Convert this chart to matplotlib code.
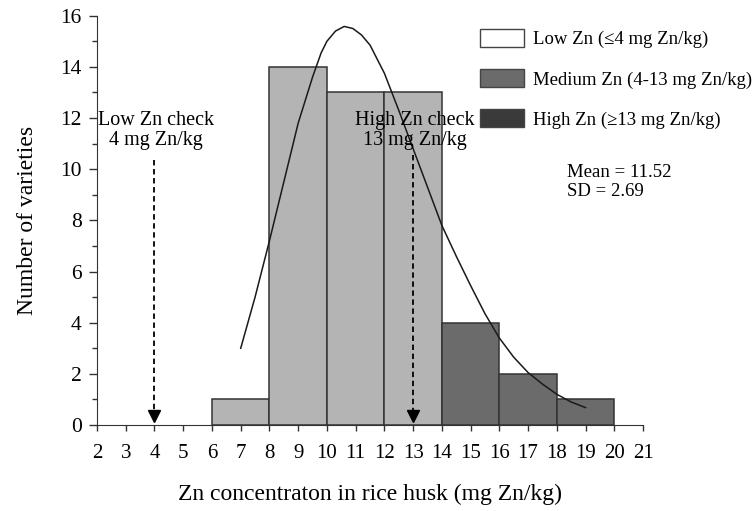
import matplotlib.pyplot as plt
from matplotlib.patches import Patch
from matplotlib.ticker import MultipleLocator

plt.rcParams['font.family'] = ['Liberation Serif', 'DejaVu Serif']

# histogram bins (left edges), width 2
bin_left = [6, 8, 10, 12, 14, 16, 18]
counts = [1, 14, 13, 13, 4, 2, 1]
bin_color = ['#b4b4b4', '#b4b4b4', '#b4b4b4', '#b4b4b4', '#6b6b6b', '#6b6b6b', '#6b6b6b']

# fitted curve
curve_x = [7.0, 7.5, 8.0, 8.5, 9.0, 9.5, 9.8, 10.0, 10.3, 10.6, 10.9, 11.2, 11.5, 12.0, 12.5,
           13.0, 13.5, 14.0, 14.5, 15.0, 15.5, 16.0, 16.5, 17.0, 17.5, 18.0, 18.5, 19.0]
curve_y = [3.0, 5.0, 7.2, 9.5, 11.8, 13.6, 14.55, 15.0, 15.4, 15.58, 15.5, 15.25, 14.85, 13.75, 12.3,
           10.8, 9.3, 7.8, 6.6, 5.45, 4.35, 3.4, 2.65, 2.05, 1.6, 1.2, 0.9, 0.68]

check_x = [4, 13]
check_top = [10.35, 10.55]
check_text = ['Low Zn check\n4 mg Zn/kg', 'High Zn check\n13 mg Zn/kg']

legend_labels = ['Low Zn (\u22644 mg Zn/kg)', 'Medium Zn (4-13 mg Zn/kg)', 'High Zn (\u226513 mg Zn/kg)']
legend_colors = ['white', '#6b6b6b', '#3a3a3a']

fig = plt.figure(figsize=(7.55, 5.11), dpi=100)
ax = fig.add_axes([0.1285, 0.1683, 0.7232, 0.801])

ax.bar(bin_left, counts, width=2, align='edge', color=bin_color,
       edgecolor='#333333', linewidth=1.1, zorder=2)
ax.plot(curve_x, curve_y, color='#1a1a1a', linewidth=1.1, zorder=3)

for cx, ct, txt in zip(check_x, check_top, check_text):
    ax.plot([cx, cx], [ct, 0.35], color='black', linestyle=(0, (3, 2)), linewidth=1.3, zorder=4)
    ax.plot([cx], [0.35], marker='v', color='black', markersize=8, zorder=4)
    ax.text(cx + 0.05, 11.5, txt, ha='center', va='center', fontsize=14.5, linespacing=1.08, zorder=5)

ax.text(18.35, 9.5, 'Mean = 11.52\nSD = 2.69', ha='left', va='center', fontsize=13.5, linespacing=1.1)

handles = [Patch(facecolor=c, edgecolor='#444444', linewidth=1) for c in legend_colors]
fig.legend(handles, legend_labels, loc='upper left', bbox_to_anchor=(0.624, 0.962),
           frameon=False, fontsize=13.5, handlelength=2.3, handleheight=1.12,
           labelspacing=1.1, handletextpad=0.5, borderpad=0)

ax.set_xlim(2, 21)
ax.set_ylim(0, 16)
ax.xaxis.set_major_locator(MultipleLocator(1))
ax.yaxis.set_major_locator(MultipleLocator(2))
ax.yaxis.set_minor_locator(MultipleLocator(1))
ax.tick_params(axis='x', direction='out', length=4, width=1, color='#333333', labelsize=15, pad=10)
ax.tick_params(axis='y', which='major', direction='out', length=6, width=1, color='#333333', labelsize=15.5, pad=5)
ax.tick_params(axis='y', which='minor', direction='out', length=3.5, width=1, color='#333333')

ax.spines['right'].set_visible(False)
ax.spines['top'].set_visible(False)
ax.spines['left'].set_color('#333333')
ax.spines['bottom'].set_color('#333333')

ax.set_xlabel('Zn concentraton in rice husk (mg Zn/kg)', fontsize=17, labelpad=15)
ax.set_ylabel('Number of varieties', fontsize=17, labelpad=16)

fig.savefig('out.png', dpi=100)
